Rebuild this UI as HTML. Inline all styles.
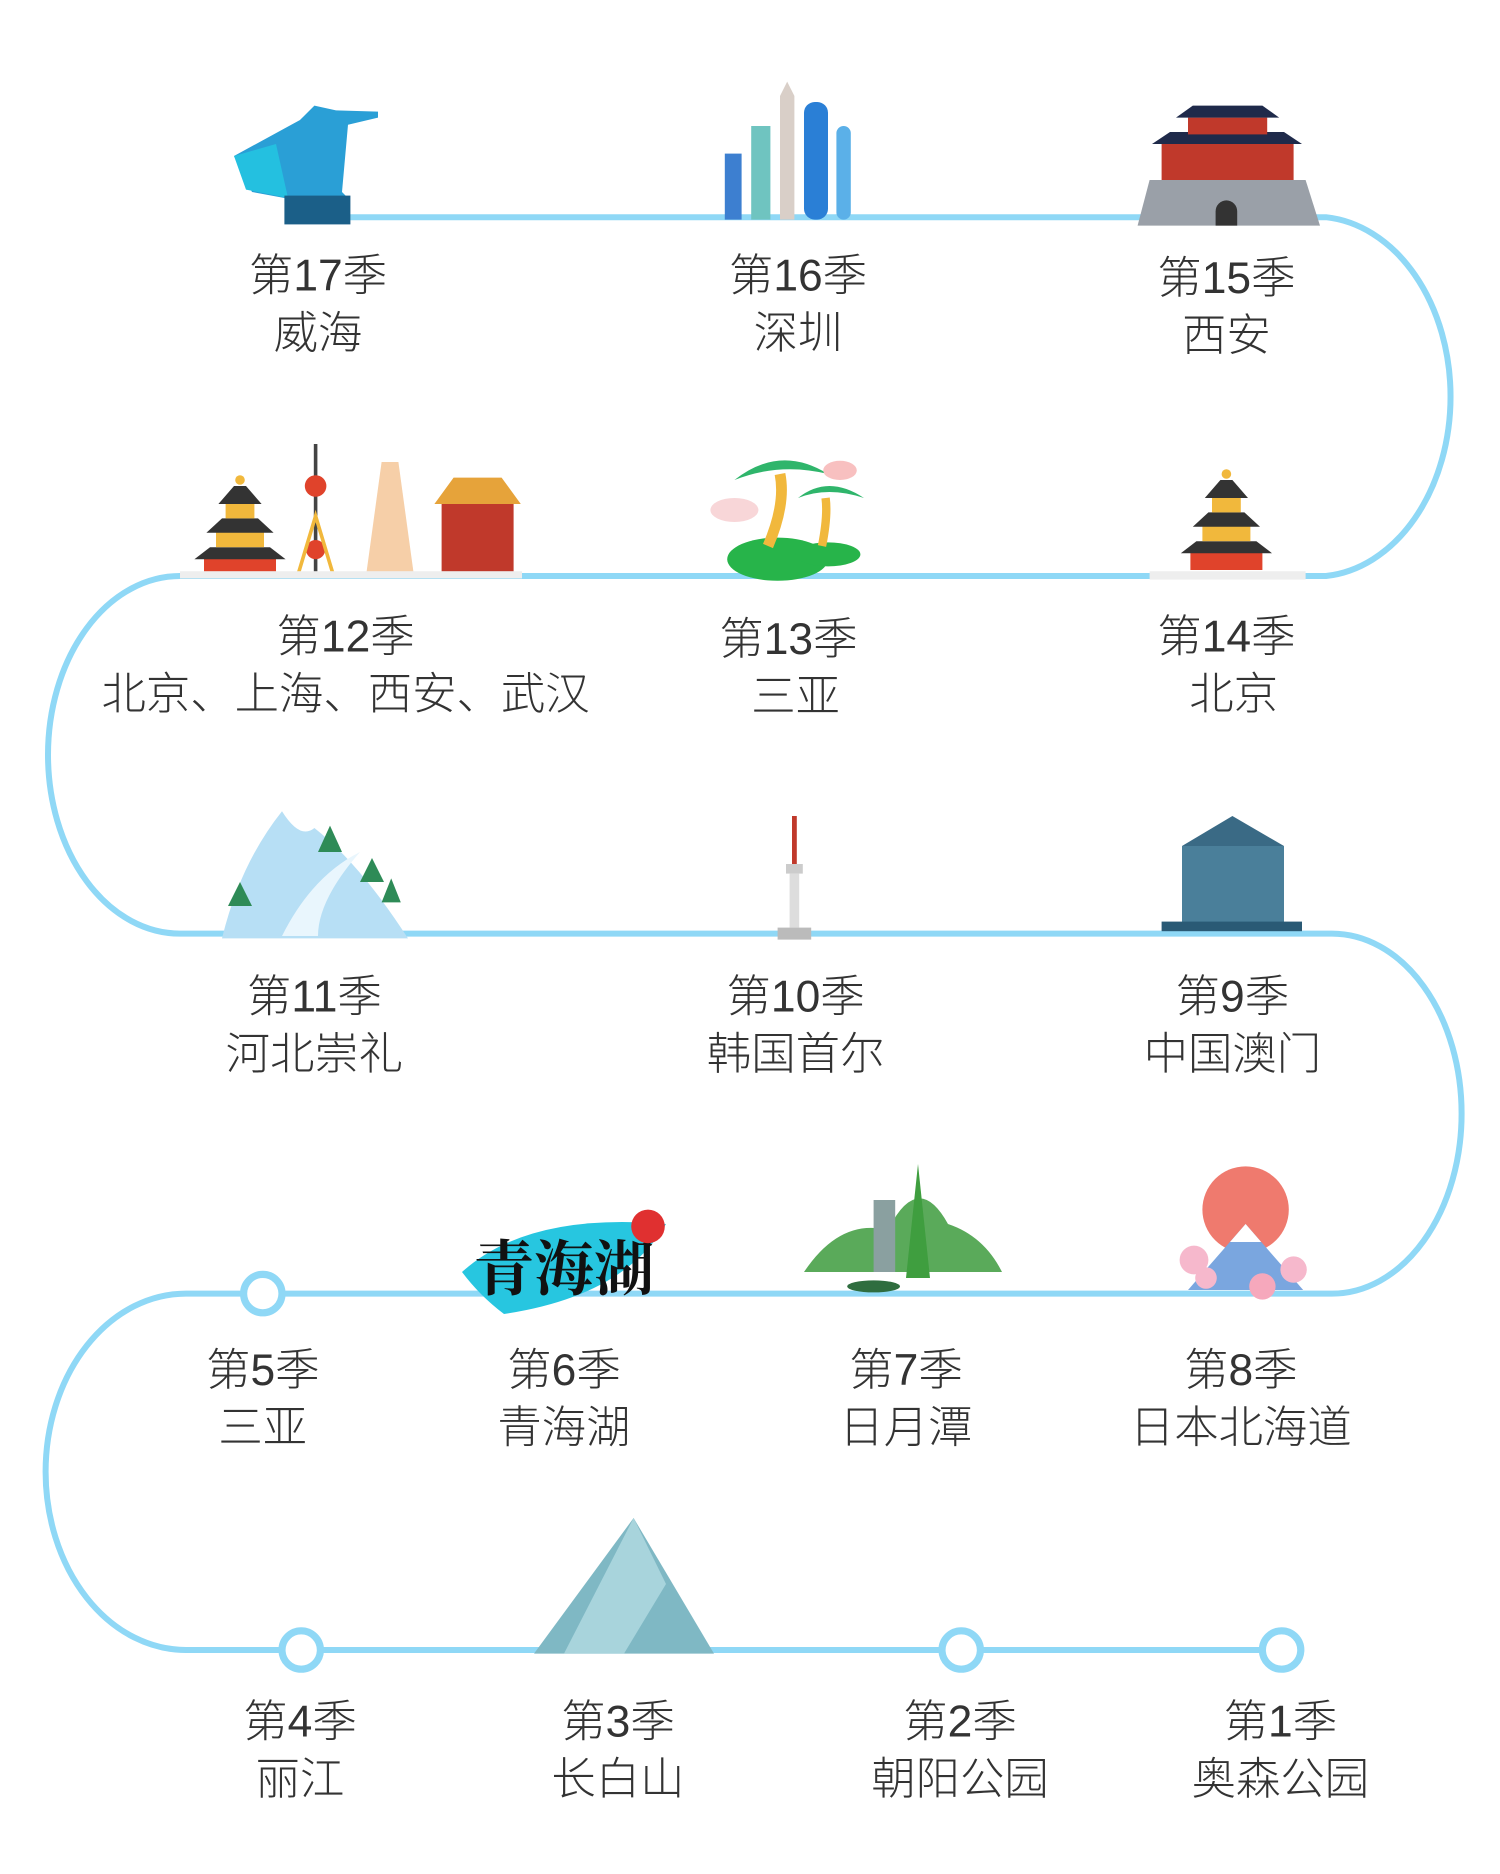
<!DOCTYPE html>
<html><head><meta charset="utf-8"><style>
html,body{margin:0;padding:0;background:#fff;}
svg{display:block}
text{font-family:"Liberation Sans","Noto Sans CJK SC",sans-serif;fill:#333;font-size:37px;font-weight:300;text-anchor:middle}
</style></head><body>
<svg width="1500" height="1874" viewBox="0 0 1250 1561.67" xmlns="http://www.w3.org/2000/svg">
<g fill="none" stroke="#8fd8f6" stroke-width="5">
<path d="M265 181 H1105 A113 150 0 0 1 1105 480 H150 A110 149 0 0 0 150 778 H1110 A108 150 0 0 1 1110 1078 H155 A117 148.5 0 0 0 155 1375 H1068"/>
</g>
<g fill="#fff" stroke="#8fd8f6" stroke-width="6">
<circle cx="219" cy="1078" r="16"/><circle cx="251" cy="1375" r="16"/>
<circle cx="801" cy="1375" r="16"/><circle cx="1068" cy="1375" r="16"/>
</g>
<polygon points="195,130 250,100 262,88 280,92 315,93 315,98 290,104 285,160 290,165 237,165 210,160" fill="#2a9fd6"/>
<polygon points="195,130 230,120 240,165 205,158" fill="#24c0e0"/>
<rect x="237" y="163" width="55" height="24" fill="#1b5f88"/>
<rect x="604" y="128" width="14" height="55" fill="#3d7fd0"/>
<rect x="626" y="105" width="16" height="78" fill="#6fc4c0"/>
<polygon points="650,183 650,80 656,68 662,80 662,183" fill="#d9cfc8"/>
<rect x="670" y="85" width="20" height="98" rx="9" fill="#2a7fd6"/>
<rect x="697" y="105" width="12" height="78" rx="6" fill="#5bb0e8"/>
<polygon points="948,188 958,150 1088,150 1100,188" fill="#9aa0a8"/>
<rect x="968" y="118" width="110" height="32" fill="#c0392b"/>
<polygon points="960,120 1085,120 1070,110 975,110" fill="#1f2a4a"/>
<rect x="990" y="98" width="66" height="14" fill="#c0392b"/>
<polygon points="980,98 1066,98 1052,88 994,88" fill="#1f2a4a"/>
<path d="M1013 188 V176 A9 9 0 0 1 1031 176 V188Z" fill="#333"/>
<g id="tp">
<rect x="170" y="465" width="60" height="15" fill="#e0432b"/>
<polygon points="162,466 238,466 225,456 175,456" fill="#333"/>
<rect x="180" y="442" width="40" height="14" fill="#f1b83c"/>
<polygon points="172,444 228,444 215,432 185,432" fill="#333"/>
<rect x="188" y="418" width="24" height="14" fill="#f1b83c"/>
<polygon points="182,420 218,420 205,405 195,405" fill="#333"/>
<circle cx="200" cy="400" r="4" fill="#f1b83c"/>
</g>
<line x1="263" y1="370" x2="263" y2="478" stroke="#444" stroke-width="3"/>
<circle cx="263" cy="405" r="9" fill="#e0432b"/><circle cx="263" cy="458" r="8" fill="#e0432b"/>
<polygon points="248,480 263,430 278,480" fill="none" stroke="#f1b83c" stroke-width="3"/>
<polygon points="305,480 318,385 332,385 345,480" fill="#f6cfa8"/>
<rect x="368" y="420" width="60" height="60" fill="#c0392b"/>
<polygon points="362,420 434,420 418,398 378,398" fill="#e6a33a"/>
<rect x="150" y="476" width="285" height="6" fill="#eee"/>
<ellipse cx="648" cy="466" rx="42" ry="18" fill="#27b44a"/><ellipse cx="690" cy="462" rx="27" ry="10" fill="#27b44a"/>
<path d="M640 455 Q655 420 650 395" stroke="#f1b83c" stroke-width="9" fill="none"/>
<path d="M685 455 Q690 430 688 415" stroke="#f1b83c" stroke-width="7" fill="none"/>
<path d="M612 400 Q650 370 690 395 Q650 385 612 400Z" fill="#2fb56b"/>
<path d="M665 415 Q690 395 720 415 Q690 405 665 415Z" fill="#2fb56b"/>
<ellipse cx="612" cy="425" rx="20" ry="10" fill="#f8d6d8"/><ellipse cx="700" cy="392" rx="14" ry="8" fill="#f8c0c0"/>
<use href="#tp" transform="translate(822,-5)"/>
<rect x="958" y="476" width="130" height="7" fill="#eee"/>
<path d="M185 782 Q200 720 235 676 Q250 700 262 690 Q300 720 340 782Z" fill="#b7dff5"/>
<path d="M235 780 Q260 730 300 710 Q265 750 265 780Z" fill="#e9f6fd"/>
<g fill="#2e8b57"><polygon points="190,755 200,735 210,755"/><polygon points="265,710 275,688 285,710"/><polygon points="300,735 310,715 320,735"/><polygon points="318,752 326,732 334,752"/></g>
<rect x="660" y="680" width="4" height="40" fill="#c0392b"/>
<rect x="655" y="720" width="14" height="8" fill="#ccc"/>
<rect x="658" y="728" width="8" height="45" fill="#ddd"/>
<rect x="648" y="773" width="28" height="10" fill="#bbb"/>
<rect x="985" y="705" width="85" height="65" fill="#4a7f9a"/>
<polygon points="985,705 1027,680 1070,705" fill="#3a6a85"/>
<rect x="968" y="768" width="117" height="8" fill="#2a5a75"/>
<path d="M385 1060 Q440 1010 555 1020 Q520 1080 420 1095 Q400 1080 385 1060Z" fill="#27c6e0"/>
<text x="470" y="1075" style="font-size:50px;font-weight:bold;fill:#111;font-family:'Noto Serif CJK SC',serif">青海湖</text>
<circle cx="540" cy="1022" r="14" fill="#e03030"/>
<path d="M670 1060 Q700 1015 740 1025 Q765 975 790 1020 Q820 1030 835 1060Z" fill="#5aaa5a"/>
<polygon points="755,1065 765,970 775,1065" fill="#3f9e3f"/>
<rect x="728" y="1000" width="18" height="60" fill="#8aa0a0"/>
<ellipse cx="728" cy="1072" rx="22" ry="5" fill="#2f6d3f"/>
<circle cx="1038" cy="1008" r="36" fill="#ef7a6e"/>
<polygon points="990,1075 1038,1020 1086,1075" fill="#7aa6df"/>
<polygon points="1025,1035 1038,1020 1051,1035" fill="#fff"/>
<circle cx="995" cy="1050" r="12" fill="#f6b8cc"/><circle cx="1078" cy="1058" r="11" fill="#f6b8cc"/><circle cx="1052" cy="1072" r="11" fill="#f6a8bc"/><circle cx="1005" cy="1065" r="9" fill="#f6b8cc"/>
<polygon points="445,1378 528,1265 595,1378" fill="#7fb8c4"/>
<polygon points="528,1265 555,1320 520,1378 470,1378" fill="#a8d4dc"/>
<text x="265" y="242">第17季</text><text x="265" y="290">威海</text>
<text x="665" y="242">第16季</text><text x="665" y="290">深圳</text>
<text x="1022" y="244">第15季</text><text x="1022" y="292">西安</text>
<text x="288" y="543">第12季</text><text x="288" y="591">北京、上海、西安、武汉</text>
<text x="657" y="545">第13季</text><text x="663" y="593">三亚</text>
<text x="1022" y="543">第14季</text><text x="1028" y="591">北京</text>
<text x="262" y="843">第11季</text><text x="262" y="891">河北崇礼</text>
<text x="663" y="843">第10季</text><text x="663" y="891">韩国首尔</text>
<text x="1027" y="843">第9季</text><text x="1027" y="891">中国澳门</text>
<text x="219" y="1154">第5季</text><text x="219" y="1202">三亚</text>
<text x="470" y="1154">第6季</text><text x="470" y="1202">青海湖</text>
<text x="755" y="1154">第7季</text><text x="755" y="1202">日月潭</text>
<text x="1034" y="1154">第8季</text><text x="1034" y="1202">日本北海道</text>
<text x="250" y="1447">第4季</text><text x="250" y="1495">丽江</text>
<text x="515" y="1447">第3季</text><text x="515" y="1495">长白山</text>
<text x="800" y="1447">第2季</text><text x="800" y="1495">朝阳公园</text>
<text x="1067" y="1447">第1季</text><text x="1067" y="1495">奥森公园</text>
</svg>
</body></html>
